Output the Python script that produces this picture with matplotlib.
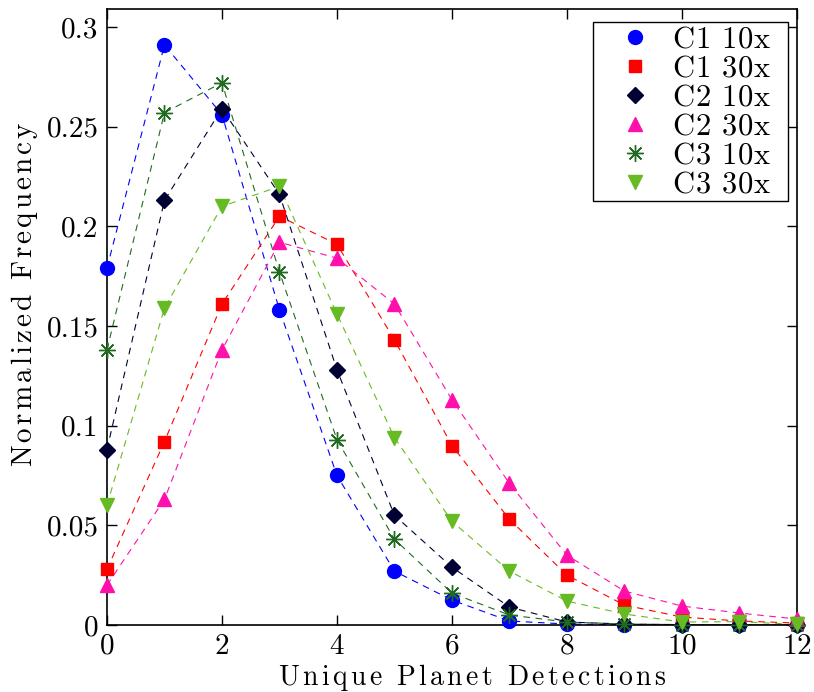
import matplotlib
matplotlib.use("Agg")
import matplotlib.pyplot as plt
from matplotlib.patches import Rectangle

plt.rcParams['font.family'] = ['cmr10', 'DejaVu Serif']
plt.rcParams['axes.formatter.use_mathtext'] = True
plt.rcParams['mathtext.fontset'] = 'cm'

x = list(range(13))
labels = ["C1 10x", "C1 30x", "C2 10x", "C2 30x", "C3 10x", "C3 30x"]
c1_10 = [0.179, 0.291, 0.256, 0.158, 0.075, 0.027, 0.0125, 0.002, 0.0005, 0.0002, 0.0, 0.0, 0.0]
c1_30 = [0.028, 0.092, 0.161, 0.205, 0.191, 0.143, 0.090, 0.053, 0.025, 0.010, 0.004, 0.002, 0.001]
c2_10 = [0.088, 0.213, 0.259, 0.216, 0.128, 0.055, 0.029, 0.009, 0.0015, 0.0005, 0.0002, 0.0, 0.0]
c2_30 = [0.020, 0.063, 0.138, 0.192, 0.184, 0.161, 0.113, 0.071, 0.035, 0.017, 0.0095, 0.006, 0.003]
c3_10 = [0.138, 0.257, 0.272, 0.177, 0.093, 0.043, 0.016, 0.005, 0.0015, 0.0005, 0.0002, 0.0, 0.0]
c3_30 = [0.060, 0.159, 0.210, 0.220, 0.156, 0.094, 0.052, 0.027, 0.012, 0.0055, 0.0015, 0.0017, 0.0003]
series = [c1_10, c1_30, c2_10, c2_30, c3_10, c3_30]
xlabel_text = "Unique Planet Detections"
ylabel_text = "Normalized Frequency"

colors = ["#0000ff", "#ff0000", "#000033", "#ff10aa", "#1f6b1f", "#66bb22"]
markers = ["o", "s", "D", "^", (8, 2, 0), "v"]
msizes = [10, 8, 8.5, 10.5, 12, 10.5]


def spaced(s, sp):
    parts = []
    for ch in s:
        if ch == " ":
            parts.append(r"\hspace{%.3f}" % (0.33 + sp))
        else:
            parts.append(r"\mathrm{%s}\hspace{%.3f}" % (ch, sp))
    return "$" + "".join(parts) + "$"


fig = plt.figure(figsize=(8.14, 6.92), dpi=100)
ax = fig.add_axes([0.1314, 0.0968, 0.8477, 0.8902])

for ys, c in zip(series, colors):
    ax.plot(x, ys, linestyle=(0, (6, 5)), linewidth=0.8, color=c)
for ys, lab, c, m, ms in zip(series, labels, colors, markers, msizes):
    ax.plot(x, ys, linestyle='none', marker=m, markersize=ms, color=c,
            markeredgecolor=c, markeredgewidth=1.0, label=spaced(lab, 0.035),
            clip_on=False, zorder=3)

ax.set_xlim(0, 12)
ax.set_ylim(0, 0.309)
ax.set_xticks([0, 2, 4, 6, 8, 10, 12])
ax.set_yticks([0, 0.05, 0.1, 0.15, 0.2, 0.25, 0.3])
ax.set_yticklabels(["0", "0.05", "0.1", "0.15", "0.2", "0.25", "0.3"])
ax.tick_params(direction='in', top=True, right=True, length=7, width=1, labelsize=21, pad=6)
for s in ax.spines.values():
    s.set_linewidth(1.2)

ax.set_xlabel(spaced(xlabel_text, 0.14), fontsize=20)
ax.xaxis.set_label_coords(0.53, -0.060)
ax.set_ylabel(spaced(ylabel_text, 0.12), fontsize=21)
ax.yaxis.set_label_coords(-0.097, 0.537)

# legend frame (MATLAB-style box with wider right margin)
box_l, box_r, box_t, box_b = 0.7043, 0.987, 0.979, 0.6883
ax.add_patch(Rectangle((box_l, box_b), box_r - box_l, box_t - box_b, transform=ax.transAxes,
                       facecolor='white', edgecolor='black', linewidth=1.0, zorder=4))
leg = ax.legend(loc='upper left', fontsize=22, frameon=False,
                handlelength=2.45, handletextpad=0.0,
                borderpad=0.15, labelspacing=0.05, borderaxespad=0.0,
                bbox_to_anchor=(box_l, box_t))
leg.set_zorder(5)

fig.savefig("out.png", dpi=100)
